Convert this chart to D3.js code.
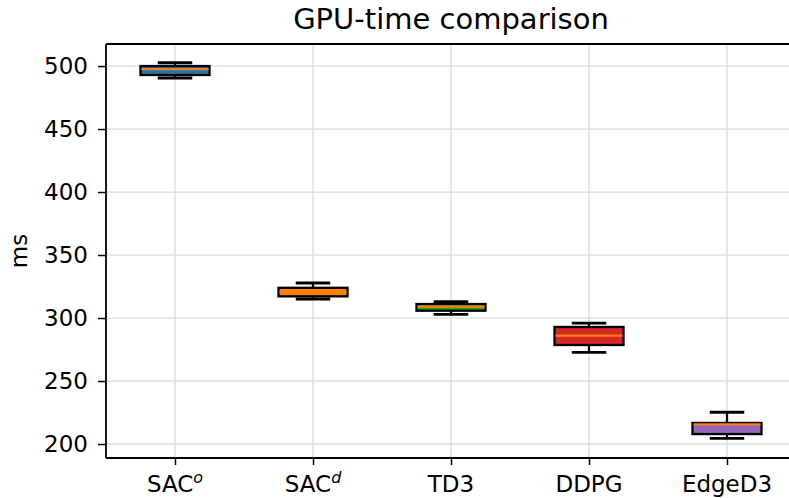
<!DOCTYPE html>
<html>
<head>
<meta charset="utf-8">
<script src="https://cdn.jsdelivr.net/npm/d3@7"></script>
<style>
  body { margin: 0; background: #fff; }
  svg { font-family: "DejaVu Sans", sans-serif; }
</style>
</head>
<body>
<div id="chart"></div>
<script>
const methods = ["SACo", "SACd", "TD3", "DDPG", "EdgeD3"];
const whiskerLow = [490.5, 315.1, 302.9, 272.8, 204.5];
const q1 = [492.9, 317.2, 305.8, 278.6, 207.9];
const median = [497.6, 320.5, 309.0, 286.0, 215.6];
const q3 = [500.0, 324.0, 311.1, 292.9, 216.7];
const whiskerHigh = [502.6, 327.8, 312.9, 296.0, 225.2];
const fills = ["#1f77b4", "#ff7f0e", "#2ca02c", "#d62728", "#9467bd"];
const yTicks = [200, 250, 300, 350, 400, 450, 500];

const width = 789, height = 498;
const margin = { top: 44, right: -7, bottom: 40, left: 106 };

const svg = d3.select("#chart").append("svg").attr("width", width).attr("height", height);

const x = d3.scaleLinear().domain([0.5, 5.5]).range([margin.left, width - margin.right]);
const y = d3.scaleLinear().domain([188.9, 517.5]).range([height - margin.bottom, margin.top]);

// grid
const grid = svg.append("g").attr("stroke", "#dcdcdc").attr("stroke-width", 1.3);
grid.selectAll(".gy").data(yTicks).join("line")
  .attr("x1", margin.left).attr("x2", width)
  .attr("y1", d => y(d)).attr("y2", d => y(d));
grid.selectAll(".gx").data(methods).join("line")
  .attr("x1", (d, i) => x(i + 1)).attr("x2", (d, i) => x(i + 1))
  .attr("y1", margin.top).attr("y2", height - margin.bottom);

// boxes
const boxes = svg.append("g").selectAll("g").data(methods).join("g");
const half = x(1.25) - x(1);
const cap = x(1.125) - x(1);
boxes.append("line").attr("stroke", "#000").attr("stroke-width", 2.3)
  .attr("x1", (d, i) => x(i + 1)).attr("x2", (d, i) => x(i + 1))
  .attr("y1", (d, i) => y(whiskerLow[i])).attr("y2", (d, i) => y(q1[i]));
boxes.append("line").attr("stroke", "#000").attr("stroke-width", 2.3)
  .attr("x1", (d, i) => x(i + 1)).attr("x2", (d, i) => x(i + 1))
  .attr("y1", (d, i) => y(whiskerHigh[i])).attr("y2", (d, i) => y(q3[i]));
boxes.append("line").attr("stroke", "#000").attr("stroke-width", 2.8)
  .attr("x1", (d, i) => x(i + 1) - cap).attr("x2", (d, i) => x(i + 1) + cap)
  .attr("y1", (d, i) => y(whiskerLow[i])).attr("y2", (d, i) => y(whiskerLow[i]));
boxes.append("line").attr("stroke", "#000").attr("stroke-width", 2.8)
  .attr("x1", (d, i) => x(i + 1) - cap).attr("x2", (d, i) => x(i + 1) + cap)
  .attr("y1", (d, i) => y(whiskerHigh[i])).attr("y2", (d, i) => y(whiskerHigh[i]));
boxes.append("rect")
  .attr("x", (d, i) => x(i + 1) - half).attr("width", 2 * half)
  .attr("y", (d, i) => y(q3[i])).attr("height", (d, i) => y(q1[i]) - y(q3[i]))
  .attr("fill", (d, i) => fills[i]).attr("stroke", "#000").attr("stroke-width", 2.3);
boxes.append("line").attr("stroke", "#ff7f0e").attr("stroke-width", 2.2)
  .attr("x1", (d, i) => x(i + 1) - half + 1).attr("x2", (d, i) => x(i + 1) + half - 1)
  .attr("y1", (d, i) => y(median[i])).attr("y2", (d, i) => y(median[i]));

// axes
const yAxis = svg.append("g").attr("transform", `translate(${margin.left},0)`)
  .call(d3.axisLeft(y).tickValues(yTicks).tickSize(8).tickPadding(10));
const xAxis = svg.append("g").attr("transform", `translate(0,${height - margin.bottom})`)
  .call(d3.axisBottom(x).tickValues([1, 2, 3, 4, 5]).tickSize(7).tickFormat(() => ""));
[yAxis, xAxis].forEach(a => {
  a.selectAll("path").attr("stroke", "#000").attr("stroke-width", 1.8);
  a.selectAll("line").attr("stroke", "#000").attr("stroke-width", 1.5);
  a.selectAll("text").attr("font-size", 23).attr("fill", "#000").attr("font-family", "DejaVu Sans");
});
yAxis.select(".domain").attr("d", `M0,${height - margin.bottom}V${margin.top}`);
xAxis.select(".domain").attr("d", `M${margin.left},0H${width}`);

// top spine
svg.append("line").attr("x1", margin.left).attr("x2", width)
  .attr("y1", margin.top).attr("y2", margin.top).attr("stroke", "#000").attr("stroke-width", 1.8);

// x tick labels with superscripts
const labelParts = [["SAC", "o"], ["SAC", "d"], ["TD3", ""], ["DDPG", ""], ["EdgeD3", ""]];
const xl = svg.append("g").attr("font-size", 23).attr("text-anchor", "middle");
labelParts.forEach((p, i) => {
  const t = xl.append("text").attr("x", x(i + 1)).attr("y", height - margin.bottom + 34);
  t.append("tspan").text(p[0]);
  if (p[1]) t.append("tspan").attr("font-size", 16).attr("font-style", "italic").attr("dy", -9).text(p[1]);
});

svg.append("text").attr("x", x(3)).attr("y", 29).attr("text-anchor", "middle")
  .attr("font-size", 29).text("GPU-time comparison");
svg.append("text").attr("transform", `translate(27,${(margin.top + height - margin.bottom) / 2}) rotate(-90)`)
  .attr("text-anchor", "middle").attr("font-size", 23).text("ms");
</script>
</body>
</html>
